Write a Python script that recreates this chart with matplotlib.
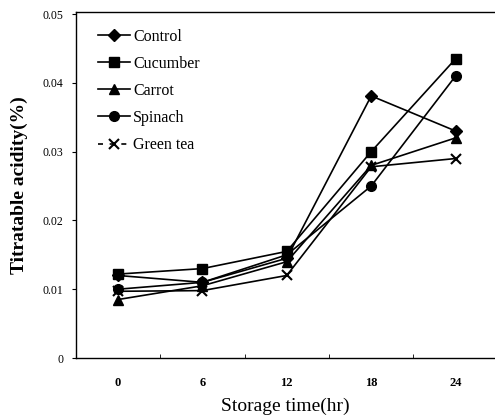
import matplotlib.pyplot as plt
from matplotlib.lines import Line2D

# storage time (hr) and titratable acidity (%)
times = [0, 6, 12, 18, 24]
control = [0.0120, 0.0110, 0.0145, 0.0381, 0.0330]
cucumber = [0.0122, 0.0130, 0.0155, 0.0300, 0.0435]
carrot = [0.0085, 0.0105, 0.0140, 0.0280, 0.0320]
spinach = [0.0100, 0.0110, 0.0150, 0.0250, 0.0410]
green_tea = [0.0097, 0.0098, 0.0120, 0.0278, 0.0290]

plt.rcParams['font.family'] = ['Liberation Serif', 'DejaVu Serif']

fig = plt.figure(figsize=(4.95, 4.18), dpi=100)
ax = fig.add_axes([0.153, 0.1435, 0.847, 0.8278])

ax.plot(times, control, '-', color='black', marker='D', markersize=6, lw=1.2, label='Control')
ax.plot(times, cucumber, '-', color='black', marker='s', markersize=7, lw=1.2, label='Cucumber')
ax.plot(times, carrot, '-', color='black', marker='^', markersize=7, lw=1.2, label='Carrot')
ax.plot(times, spinach, '-', color='black', marker='o', markersize=7, lw=1.2, label='Spinach')
ax.plot(times, green_tea, '-', color='black', marker='x', markersize=7, mew=1.5, lw=1.2)

# legend handle for green tea is drawn dashed, as in the original
handles, labels = ax.get_legend_handles_labels()
handles.append(Line2D([], [], color='black', marker='x', markersize=7, mew=1.5, lw=1.2,
                      linestyle=(0, (3, 4))))
labels.append('Green tea')

ax.set_xlim(-3, 26.8)
ax.set_ylim(0, 0.0503)

# category-style axis: labels at points, ticks between them
ax.set_xticks(times)
ax.set_xticklabels([str(t) for t in times], fontsize=9, fontweight='bold')
ax.tick_params(axis='x', which='major', length=0, pad=14)
ax.set_xticks([3, 9, 15, 21], minor=True)
ax.tick_params(axis='x', which='minor', direction='in', length=3)

ax.set_yticks([0, 0.01, 0.02, 0.03, 0.04, 0.05])
ax.set_yticklabels(['0', '0.01', '0.02', '0.03', '0.04', '0.05'], fontsize=8.5)
ax.tick_params(axis='y', direction='out', length=3, pad=6)

ax.spines['right'].set_visible(False)
for s in ['left', 'bottom', 'top']:
    ax.spines[s].set_linewidth(1.0)

ax.set_xlabel('Storage time(hr)', fontsize=14, labelpad=6)
ax.set_ylabel('Titratable acidity(%)', fontsize=14, fontweight='bold', labelpad=10)

ax.legend(handles, labels, loc='upper left', bbox_to_anchor=(0.03, 0.98), frameon=False,
          fontsize=11.5, handlelength=2.0, handletextpad=0.2, labelspacing=0.7,
          borderaxespad=0.2)

plt.savefig('out.png', dpi=100)
